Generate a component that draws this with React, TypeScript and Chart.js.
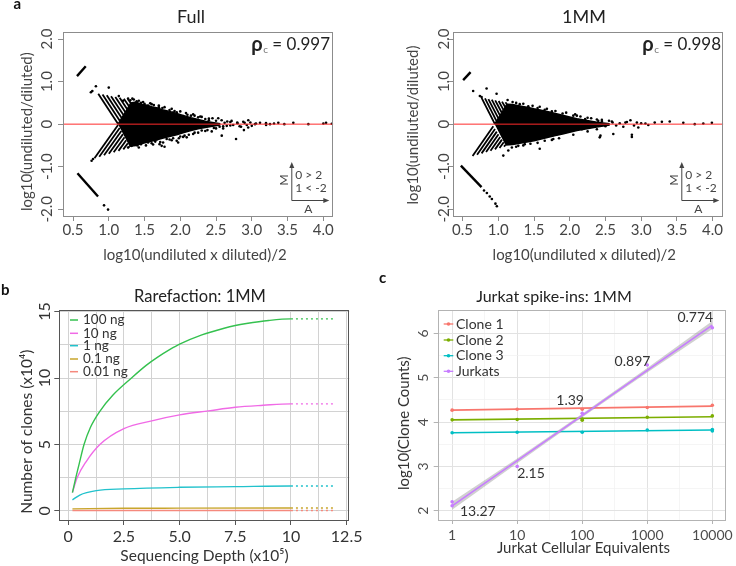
import React, { useEffect, useRef } from 'react';
import { Chart, registerables } from 'chart.js';

Chart.register(...registerables);

const FONT = "Lato, 'Open Sans', 'DejaVu Sans', sans-serif";

// ================= Panel a : MA plots =================
const maXTicks = [0.5, 1.0, 1.5, 2.0, 2.5, 3.0, 3.5, 4.0];
const maXTickLabels = ['0.5', '1.0', '1.5', '2.0', '2.5', '3.0', '3.5', '4.0'];
const maYTicks = [-2, -1, 0, 1, 2];
const maYTickLabels = ['-2.0', '-1.0', '0', '1.0', '2.0'];
const maTitles = ['Full', '1MM'];
const maRho = ['0.997', '0.998'];

// --- Full ---
const fullCoreA = [1.13, 1.31, 1.38, 1.45, 1.52, 1.6, 1.68, 1.75, 1.85, 1.95, 2.05, 2.15, 2.25, 2.35, 2.45, 2.55,
  2.55, 2.45, 2.35, 2.25, 2.15, 2.05, 1.95, 1.85, 1.75, 1.65, 1.55, 1.45, 1.38, 1.29];
const fullCoreM = [0.0, 0.5, 0.52, 0.47, 0.45, 0.41, 0.38, 0.34, 0.3, 0.25, 0.2, 0.15, 0.11, 0.07, 0.04, 0.01,
  -0.02, -0.05, -0.08, -0.11, -0.15, -0.2, -0.25, -0.29, -0.33, -0.38, -0.42, -0.46, -0.5, -0.52];
const fullSegA0 = [0.556, 0.562, 0.853, 0.913, 0.972, 1.032, 1.092, 1.152, 1.211, 1.271, 0.80, 0.867, 0.934, 1.001, 1.069, 1.136, 1.203, 1.27];
const fullSegM0 = [1.13, -1.154, 0.715, 0.696, 0.677, 0.658, 0.638, 0.619, 0.600, 0.581, -0.80, -0.766, -0.731, -0.697, -0.663, -0.629, -0.594, -0.56];
const fullSegA1 = [0.678, 0.85, 1.133, 1.158, 1.183, 1.208, 1.233, 1.258, 1.283, 1.308, 1.13, 1.153, 1.176, 1.199, 1.221, 1.244, 1.267, 1.29];
const fullSegM1 = [1.36, -1.70, 0.0, 0.07, 0.14, 0.21, 0.28, 0.35, 0.42, 0.49, -0.02, -0.091, -0.163, -0.234, -0.306, -0.377, -0.449, -0.52];
const fullPtA = [
  0.75, 0.77, 0.82, 1.0, 1.14, 1.27, 1.35, 1.39, 1.5, 1.63, 1.67, 1.75, 1.9, 1.92, 2.04, 2.1, 2.2, 2.3, 2.35, 2.45,
  1.2, 1.3, 1.45, 1.55, 1.6, 1.7, 1.85, 1.95, 2.15, 2.25,
  0.76, 0.78, 1.27, 1.32, 1.5, 1.55, 1.71, 1.74, 1.81, 1.95, 1.97, 2.06, 2.09, 2.44, 2.58, 2.78, 2.89, 2.18, 1.76, 1.78, 2.04, 1.67, 2.3, 2.5,
  1.4, 1.45, 1.6, 1.65, 1.85, 1.9, 2.0, 2.2, 2.35,
  0.934, 0.99,
  2.531, 2.578, 2.657, 2.718, 2.797, 2.881, 2.951, 3.045, 3.059, 3.115, 3.199, 3.255, 3.311, 3.371, 3.455, 3.581, 3.791, 4.001, 4.039, 4.119,
  2.6, 2.7, 2.85, 3.0, 3.2, 2.95,
  2.5, 2.55, 2.62, 2.65, 2.7, 2.74, 2.8, 2.83, 2.9, 2.93, 2.98, 2.4, 2.47, 2.6,
  1.33, 1.42, 1.48, 1.58, 1.7, 1.78, 1.88, 2.0, 2.08, 2.18, 2.28, 2.4,
  1.42, 1.52, 1.62, 1.72, 1.88, 1.98, 2.12, 2.25, 2.38,
];
const fullPtM = [
  0.75, 0.78, 0.89, 0.86, 0.66, 0.6, 0.58, 0.54, 0.48, 0.45, 0.31, 0.38, 0.27, 0.31, 0.19, 0.22, 0.2, 0.17, 0.12, 0.14,
  0.55, 0.56, 0.5, 0.44, 0.47, 0.4, 0.33, 0.28, 0.2, 0.16,
  -0.86, -0.82, -0.55, -0.51, -0.39, -0.43, -0.47, -0.51, -0.35, -0.39, -0.43, -0.27, -0.31, -0.17, -0.27, -0.35, -0.14, -0.23, -0.43, -0.53, -0.3, -0.36, -0.15, -0.1,
  -0.5, -0.47, -0.45, -0.41, -0.36, -0.33, -0.29, -0.2, -0.16,
  -1.91, -2.01,
  0.14, 0.093, 0.061, 0.077, 0.037, 0.054, 0.093, 0.0, 0.016, 0.03, 0.023, 0.0, 0.016, 0.03, 0.0, 0.03, 0.0, 0.016, 0.03, 0.01,
  -0.05, -0.03, -0.06, -0.04, -0.02, -0.08,
  0.08, -0.06, 0.03, -0.04, 0.05, -0.02, 0.02, -0.05, 0.03, -0.02, 0.04, 0.09, -0.09, -0.1,
  0.6, 0.55, 0.52, 0.49, 0.44, 0.4, 0.36, 0.3, 0.26, 0.23, 0.18, 0.13,
  -0.55, -0.5, -0.48, -0.42, -0.38, -0.33, -0.25, -0.2, -0.14,
];

// --- 1MM ---
const mmCoreA = [0.95, 1.12, 1.2, 1.3, 1.4, 1.5, 1.6, 1.7, 1.8, 1.9, 2.0, 2.1, 2.2, 2.3, 2.4, 2.55,
  2.55, 2.4, 2.3, 2.2, 2.1, 2.0, 1.9, 1.8, 1.7, 1.6, 1.5, 1.4, 1.3, 1.2, 1.1];
const mmCoreM = [0.0, 0.47, 0.46, 0.43, 0.40, 0.36, 0.33, 0.29, 0.25, 0.21, 0.17, 0.13, 0.1, 0.07, 0.04, 0.01,
  -0.02, -0.06, -0.09, -0.12, -0.15, -0.19, -0.23, -0.27, -0.31, -0.35, -0.39, -0.42, -0.45, -0.48, -0.49];
const mmSegA0 = [0.508, 0.476, 0.766, 0.814, 0.861, 0.909, 0.957, 1.005, 1.052, 1.10, 0.64, 0.703, 0.766, 0.829, 0.891, 0.954, 1.017, 1.08];
const mmSegM0 = [1.035, -0.974, 0.62, 0.605, 0.59, 0.575, 0.56, 0.545, 0.53, 0.515, -0.75, -0.719, -0.687, -0.656, -0.624, -0.593, -0.561, -0.53];
const mmSegA1 = [0.612, 0.765, 0.953, 0.977, 1.001, 1.025, 1.049, 1.072, 1.096, 1.12, 0.93, 0.954, 0.979, 1.003, 1.027, 1.051, 1.076, 1.10];
const mmSegM1 = [1.222, -1.48, 0.0, 0.067, 0.134, 0.201, 0.269, 0.336, 0.403, 0.47, -0.05, -0.113, -0.176, -0.239, -0.301, -0.364, -0.427, -0.49];
const mmPtA = [
  0.648, 0.836, 0.742, 0.766, 0.976, 1.13, 1.2, 1.3, 1.42, 1.55, 1.65, 1.75, 1.9, 2.05, 2.15, 2.3, 2.45, 2.55,
  2.076, 2.216, 2.4, 2.59, 2.78, 2.85, 2.94, 3.06, 3.19, 3.29, 3.40, 3.59, 3.75, 3.87, 3.99,
  2.43, 2.42, 2.61, 2.87, 2.87, 2.96, 1.58, 1.65, 1.77, 1.89, 1.98, 2.17, 1.37, 1.47, 1.70,
  1.07, 1.19, 1.28, 1.14,
  0.80, 0.84, 0.88, 0.91, 0.96, 0.98,
  2.45, 2.5, 2.6, 2.65, 2.7, 2.75, 2.8, 2.9, 3.0, 3.1,
  1.25, 1.35, 1.48, 1.58, 1.68, 1.8, 1.95, 2.1, 2.25, 2.38,
  1.25, 1.35, 1.45, 1.55, 1.75, 1.85, 2.05, 2.25, 2.38,
];
const mmPtM = [
  0.778, 0.84, 0.661, 0.638, 0.715, 0.568, 0.52, 0.47, 0.42, 0.38, 0.34, 0.3, 0.25, 0.2, 0.18, 0.14, 0.1, 0.08,
  0.23, 0.117, 0.077, 0.061, 0.037, 0.093, 0.037, 0.014, 0.037, 0.054, 0.061, 0.03, 0.0, 0.014, 0.03,
  -0.27, -0.31, -0.23, -0.25, -0.3, -0.08, -0.58, -0.39, -0.35, -0.2, -0.16, -0.12, -0.47, -0.31, -0.23,
  -0.74, -0.55, -0.51, -0.62,
  -1.56, -1.62, -1.70, -1.76, -1.87, -1.93,
  0.06, -0.05, 0.04, -0.03, 0.02, -0.06, 0.05, -0.03, 0.02, -0.02,
  0.5, 0.48, 0.43, 0.41, 0.36, 0.31, 0.27, 0.2, 0.15, 0.11,
  -0.53, -0.5, -0.46, -0.44, -0.37, -0.33, -0.25, -0.17, -0.12,
];

// ================= Panel b : rarefaction =================
const rareXGrid = [0, 1.25, 2.5, 3.75, 5, 6.25, 7.5, 8.75, 10, 11.25, 12.5];
const rareXTickLabels = ['0', '', '2.5', '', '5.0', '', '7.5', '', '10', '', '12.5'];
const rareYGrid = [0, 2.5, 5, 7.5, 10, 12.5, 15];
const rareYTickLabels = ['0', '', '5', '', '10', '', '15'];
const rareNames = ['100 ng', '10 ng', '1 ng', '0.1 ng', '0.01 ng'];
const depth100 = [0.19, 0.34, 0.5, 0.71, 1.0, 1.42, 2.0, 2.84, 3.5, 4.0, 4.57, 5.0, 6.0, 7.0, 7.5, 8.0, 9.0, 10.0, 12.0];
const clones100 = [1.38, 2.5, 3.6, 5.0, 6.3, 7.5, 8.7, 10.0, 10.95, 11.55, 12.15, 12.55, 13.25, 13.75, 13.95, 14.1, 14.33, 14.45, 14.45];
const depth10 = [0.19, 0.4, 0.8, 1.42, 2.5, 3.8, 5.0, 6.3, 7.5, 8.75, 10.0, 12.0];
const clones10 = [1.4, 2.5, 3.7, 5.0, 6.2, 6.8, 7.23, 7.53, 7.8, 7.95, 8.06, 8.06];
const depth1 = [0.19, 0.52, 1.27, 2.5, 5.0, 7.5, 10.0, 12.0];
const clones1 = [0.83, 1.2, 1.53, 1.66, 1.78, 1.83, 1.88, 1.88];
const depth01 = [0.19, 2.5, 5.0, 10.0, 12.0];
const clones01 = [0.16, 0.2, 0.21, 0.22, 0.22];
const depth001 = [0.19, 5.0, 10.0, 12.0];
const clones001 = [0.03, 0.04, 0.04, 0.04];
const rareColors = ['#35c14f', '#f06ae6', '#22c2cc', '#c8a62c', '#f5897d'];

// ================= Panel c : Jurkat spike-ins =================
const equivTicks = [1, 3.1623, 10, 31.623, 100, 316.23, 1000, 3162.3, 10000];
const equivTickLabels = ['1', '', '10', '', '100', '', '1000', '', '10000'];
const countTicks = [2, 2.5, 3, 3.5, 4, 4.5, 5, 5.5, 6];
const countTickLabels = ['2', '', '3', '', '4', '', '5', '', '6'];
const spikeNames = ['Clone 1', 'Clone 2', 'Clone 3', 'Jurkats'];
const spikeColors = ['#f8766d', '#7cae00', '#00bfc4', '#c77cff'];
const clone1X = [1, 10, 100, 1000, 10000];
const clone1Y = [4.27, 4.29, 4.29, 4.33, 4.38];
const clone2X = [1, 10, 100, 100, 1000, 10000];
const clone2Y = [4.05, 4.06, 4.04, 4.07, 4.11, 4.14];
const clone3X = [1, 10, 100, 1000, 10000, 10000];
const clone3Y = [3.76, 3.77, 3.77, 3.82, 3.83, 3.80];
const jurkatX = [1, 1, 10, 100, 1000, 10000];
const jurkatY = [2.20, 2.11, 3.0, 4.20, 5.29, 6.13];
const fitX = [1, 10000];
const clone1Fit = [4.27, 4.36];
const clone2Fit = [4.05, 4.12];
const clone3Fit = [3.76, 3.82];
const jurkatFit = [2.11, 6.19];
const bandX = [1, 10, 100, 1000, 10000];
const bandHi = [2.20, 3.18, 4.19, 5.22, 6.28];
const bandLo = [2.02, 3.07, 4.11, 5.12, 6.10];
const spikeLabelText = ['13.27', '2.15', '1.39', '0.897', '0.774'];
const spikeLabelX = [2.48, 16.3, 65.1, 593, 5470];
const spikeLabelY = [1.99, 2.84, 4.48, 5.375, 6.37];

// ================= helpers =================
const xy = (xs: number[], ys: number[]) => xs.map((x, i) => ({ x, y: ys[i] }));

function txt(ctx: any, s: string, x: number, y: number, font: string, color: string, align = 'center', base = 'middle') {
  ctx.save();
  ctx.font = font;
  ctx.fillStyle = color;
  ctx.textAlign = align;
  ctx.textBaseline = base;
  ctx.fillText(s, x, y);
  ctx.restore();
}
function rtxt(ctx: any, s: string, x: number, y: number, font: string, color: string) {
  ctx.save();
  ctx.translate(x, y);
  ctx.rotate(-Math.PI / 2);
  ctx.font = font;
  ctx.fillStyle = color;
  ctx.textAlign = 'center';
  ctx.textBaseline = 'middle';
  ctx.fillText(s, 0, 0);
  ctx.restore();
}
function box(chart: any, color: string) {
  const { ctx, chartArea: a } = chart;
  ctx.save();
  ctx.strokeStyle = color;
  ctx.lineWidth = 1;
  ctx.strokeRect(Math.round(a.left) + 0.5, Math.round(a.top) + 0.5, Math.round(a.right - a.left) - 1, Math.round(a.bottom - a.top));
  ctx.restore();
}
function yLabels(chart: any, vals: number[], labels: string[], off: number, font: string, color: string) {
  const s = chart.scales.y;
  vals.forEach((v, i) => {
    if (labels[i]) rtxt(chart.ctx, labels[i], chart.chartArea.left - off, s.getPixelForValue(v), font, color);
  });
}
function arrowHead(ctx: any, x: number, y: number, dir: string) {
  ctx.beginPath();
  if (dir === 'up') { ctx.moveTo(x, y - 1); ctx.lineTo(x - 2.5, y + 5); ctx.lineTo(x + 2.5, y + 5); }
  else { ctx.moveTo(x + 1, y); ctx.lineTo(x - 5, y - 2.5); ctx.lineTo(x - 5, y + 2.5); }
  ctx.closePath();
  ctx.fill();
}

const baseOpts = (padding: any) => ({
  responsive: false,
  animation: false,
  events: [],
  devicePixelRatio: 1,
  layout: { padding, autoPadding: false },
  plugins: { legend: { display: false }, tooltip: { enabled: false } },
});

// ================= chart builders =================
function buildMA(canvas: HTMLCanvasElement, k: number) {
  const d = k === 0
    ? { coreA: fullCoreA, coreM: fullCoreM, a0: fullSegA0, m0: fullSegM0, a1: fullSegA1, m1: fullSegM1, pa: fullPtA, pm: fullPtM }
    : { coreA: mmCoreA, coreM: mmCoreM, a0: mmSegA0, m0: mmSegM0, a1: mmSegA1, m1: mmSegM1, pa: mmPtA, pm: mmPtM };
  const g = k === 0
    ? { xmin: 0.36, xmax: 4.14, yw: 63, pr: 34.7, yOff: 16.3, yT: [26.7, 131.7], xT: [195, 255], tT: [191, 17], rhoR: 330 }
    : { xmin: 0.37, xmax: 4.15, yw: 85.3, pr: 12.7, yOff: 9.3, yT: [44.7, 125], xT: [216.3, 255], tT: [216, 17], rhoR: 353 };
  const datasets: any[] = [
    { data: [{ x: g.xmin, y: 0 }, { x: g.xmax, y: 0 }], borderColor: '#ff2a2a', borderWidth: 1, pointRadius: 0 },
    { data: xy(d.pa, d.pm), showLine: false, pointRadius: 1.3, pointBackgroundColor: '#000', pointBorderWidth: 0 },
    { data: xy(d.coreA, d.coreM), borderColor: '#000', backgroundColor: '#000', borderWidth: 1.5, pointRadius: 0, fill: 'shape', tension: 0 },
    ...d.a0.map((a0, i) => ({
      data: [{ x: a0, y: d.m0[i] }, { x: d.a1[i], y: d.m1[i] }],
      borderColor: '#000', borderWidth: i < 2 ? 2.4 : 1.8, pointRadius: 0,
    })),
  ];
  const extras = {
    id: 'maExtras',
    afterDraw(chart: any) {
      const { ctx, chartArea: a } = chart;
      box(chart, '#8c8c8c');
      yLabels(chart, maYTicks, maYTickLabels, g.yOff, `15px ${FONT}`, '#444');
      rtxt(ctx, 'log10(undiluted/diluted)', g.yT[0], g.yT[1], `15px ${FONT}`, '#444');
      txt(ctx, 'log10(undiluted x diluted)/2', g.xT[0], g.xT[1], `15px ${FONT}`, '#444');
      txt(ctx, maTitles[k], g.tT[0], g.tT[1], `18px ${FONT}`, '#222');
      if (k === 0) txt(ctx, 'a', 13.5, 8.5, `bold 15px ${FONT}`, '#111', 'left', 'alphabetic');
      // rho_c
      ctx.save();
      ctx.font = `17px ${FONT}`;
      const rest = ' = ' + maRho[k];
      const w1 = ctx.measureText(rest).width;
      ctx.restore();
      txt(ctx, rest, g.rhoR, 45, `17px ${FONT}`, '#222', 'right');
      ctx.save();
      ctx.font = `10px ${FONT}`;
      const wc = ctx.measureText('c').width;
      ctx.restore();
      txt(ctx, 'c', g.rhoR - w1, 50, `10px ${FONT}`, '#777', 'right');
      txt(ctx, 'ρ', g.rhoR - w1 - wc - 0.5, 45, `bold 20px ${FONT}`, '#222', 'right');
      // M / A key
      const xv = a.right - 42, yb = a.bottom - 16, yt = a.bottom - 53, xr = a.right - 5;
      ctx.save();
      ctx.strokeStyle = '#444';
      ctx.fillStyle = '#444';
      ctx.lineWidth = 1;
      ctx.beginPath();
      ctx.moveTo(xv + 0.5, yb + 0.5); ctx.lineTo(xv + 0.5, yt + 3);
      ctx.moveTo(xv + 0.5, yb + 0.5); ctx.lineTo(xr - 3, yb + 0.5);
      ctx.stroke();
      arrowHead(ctx, xv + 0.5, yt, 'up');
      arrowHead(ctx, xr, yb + 0.5, 'right');
      ctx.restore();
      txt(ctx, '0 > 2', xv + 4, a.bottom - 41, `12px ${FONT}`, '#444', 'left');
      txt(ctx, '1 < -2', xv + 4, a.bottom - 28, `12px ${FONT}`, '#444', 'left');
      txt(ctx, 'A', xv + 17, a.bottom - 7, `12px ${FONT}`, '#444');
      rtxt(ctx, 'M', xv - 7, a.bottom - 36, `12px ${FONT}`, '#444');
    },
  };
  return new Chart(canvas, {
    type: 'line',
    data: { datasets },
    options: {
      ...baseOpts({ left: 0, right: g.pr, top: 32.3, bottom: 0 }),
      scales: {
        x: {
          type: 'linear', min: g.xmin, max: g.xmax,
          afterBuildTicks: (s: any) => { s.ticks = maXTicks.map((v) => ({ value: v })); },
          afterFit: (s: any) => { s.height = 74; },
          ticks: { callback: (_v: any, i: number) => maXTickLabels[i], font: { family: FONT, size: 15 }, color: '#444', padding: 0, maxRotation: 0 },
          grid: { drawOnChartArea: false, drawTicks: true, tickLength: 5, tickColor: '#8c8c8c', color: '#8c8c8c' },
          border: { display: false },
        },
        y: {
          type: 'linear', min: -2.16, max: 2.16,
          afterBuildTicks: (s: any) => { s.ticks = maYTicks.map((v) => ({ value: v })); },
          afterFit: (s: any) => { s.width = g.yw; },
          ticks: { display: false },
          grid: { drawOnChartArea: false, drawTicks: true, tickLength: 5, tickColor: '#8c8c8c', color: '#8c8c8c' },
          border: { display: false },
        },
      },
    } as any,
    plugins: [extras],
  } as any);
}

function buildRare(canvas: HTMLCanvasElement) {
  const series = [
    [depth100, clones100], [depth10, clones10], [depth1, clones1], [depth01, clones01], [depth001, clones001],
  ];
  const datasets = series.map(([xs, ys], i) => ({
    label: rareNames[i],
    data: xy(xs, ys),
    borderColor: rareColors[i],
    borderWidth: 1.4,
    pointRadius: 0,
    cubicInterpolationMode: 'monotone',
    segment: { borderDash: (c: any) => (c.p0.parsed.x >= 9.99 ? [2, 3] : undefined) },
  }));
  const extras = {
    id: 'rareExtras',
    afterDraw(chart: any) {
      const { ctx } = chart;
      box(chart, '#555');
      yLabels(chart, rareYGrid, rareYTickLabels, 14.3, `16px ${FONT}`, '#333');
      rtxt(ctx, 'Number of clones (x10\u2074)', 26.7, 161.7, `15.5px ${FONT}`, '#333');
      txt(ctx, 'Sequencing Depth (x10\u2075)', 204.5, 286, `15.5px ${FONT}`, '#333');
      txt(ctx, 'Rarefaction: 1MM', 200, 27, `16.5px ${FONT}`, '#222');
      txt(ctx, 'b', 1, 25, `bold 15px ${FONT}`, '#111', 'left', 'alphabetic');
      const rows = [50, 63.3, 75.7, 89, 101.7];
      rareNames.forEach((n, i) => {
        ctx.save();
        ctx.strokeStyle = rareColors[i];
        ctx.lineWidth = 1.5;
        ctx.beginPath();
        ctx.moveTo(70, rows[i]); ctx.lineTo(78, rows[i]);
        ctx.stroke();
        ctx.restore();
        txt(ctx, n, 83, rows[i], `13.5px ${FONT}`, '#333', 'left');
      });
    },
  };
  return new Chart(canvas, {
    type: 'line',
    data: { datasets },
    options: {
      ...baseOpts({ left: 0, right: 18.7, top: 40, bottom: 0 }),
      scales: {
        x: {
          type: 'linear', min: -0.4, max: 12.62,
          afterBuildTicks: (s: any) => { s.ticks = rareXGrid.map((v) => ({ value: v })); },
          afterFit: (s: any) => { s.height = 46; },
          ticks: { callback: (_v: any, i: number) => rareXTickLabels[i], font: { family: FONT, size: 16 }, color: '#333', padding: 2, maxRotation: 0, autoSkip: false },
          grid: {
            drawOnChartArea: true, drawTicks: true, tickLength: 5, color: '#d2d2d2', lineWidth: 1,
            tickColor: (c: any) => (rareXTickLabels[c.index] ? '#555' : 'rgba(0,0,0,0)'),
          },
          border: { display: false },
        },
        y: {
          type: 'linear', min: -0.68, max: 15.12,
          afterBuildTicks: (s: any) => { s.ticks = rareYGrid.map((v) => ({ value: v })); },
          afterFit: (s: any) => { s.width = 59.3; },
          ticks: { display: false },
          grid: {
            drawOnChartArea: true, drawTicks: true, tickLength: 5, color: '#d2d2d2', lineWidth: 1,
            tickColor: (c: any) => (rareYTickLabels[c.index] ? '#555' : 'rgba(0,0,0,0)'),
          },
          border: { display: false },
        },
      },
    } as any,
    plugins: [extras],
  } as any);
}

function buildSpike(canvas: HTMLCanvasElement) {
  const pts = [[clone1X, clone1Y], [clone2X, clone2Y], [clone3X, clone3Y], [jurkatX, jurkatY]];
  const fits = [clone1Fit, clone2Fit, clone3Fit, jurkatFit];
  const datasets: any[] = [];
  datasets.push({ data: xy(jurkatX, jurkatY), showLine: false, pointRadius: 1.8, pointBackgroundColor: spikeColors[3], pointBorderWidth: 0 });
  datasets.push({ data: xy(fitX, jurkatFit), borderColor: spikeColors[3], borderWidth: 1.6, pointRadius: 0 });
  datasets.push({ data: xy(bandX, bandHi), borderWidth: 0, borderColor: 'rgba(0,0,0,0)', pointRadius: 0, fill: '+1', backgroundColor: 'rgba(150,150,150,0.45)' });
  datasets.push({ data: xy(bandX, bandLo), borderWidth: 0, borderColor: 'rgba(0,0,0,0)', pointRadius: 0 });
  for (let i = 0; i < 3; i++) {
    datasets.push({ data: xy(pts[i][0], pts[i][1]), showLine: false, pointRadius: 1.8, pointBackgroundColor: spikeColors[i], pointBorderWidth: 0 });
    datasets.push({ data: xy(fitX, fits[i]), borderColor: spikeColors[i], borderWidth: 1.6, pointRadius: 0 });
  }
  const extras = {
    id: 'spikeExtras',
    afterDraw(chart: any) {
      const { ctx } = chart;
      box(chart, '#b3b3b3');
      yLabels(chart, countTicks, countTickLabels, 14, `14px ${FONT}`, '#4d4d4d');
      rtxt(ctx, 'log10(Clone Counts)', 36.3, 153.3, `15px ${FONT}`, '#333');
      txt(ctx, 'Jurkat Cellular Equivalents', 215.5, 278.3, `15px ${FONT}`, '#333');
      txt(ctx, 'Jurkat spike-ins: 1MM', 186, 27, `16px ${FONT}`, '#222');
      txt(ctx, 'c', 11, 13, `bold 15px ${FONT}`, '#111', 'left', 'alphabetic');
      const xs = chart.scales.x, ys = chart.scales.y;
      spikeLabelText.forEach((t, i) => {
        txt(ctx, t, xs.getPixelForValue(spikeLabelX[i]), ys.getPixelForValue(spikeLabelY[i]), `14px ${FONT}`, '#333');
      });
      const rows = [54, 70, 85.7, 101.3];
      spikeNames.forEach((n, i) => {
        ctx.save();
        ctx.strokeStyle = spikeColors[i];
        ctx.fillStyle = spikeColors[i];
        ctx.lineWidth = 1.3;
        ctx.beginPath();
        ctx.moveTo(75.7, rows[i]); ctx.lineTo(85.3, rows[i]);
        ctx.stroke();
        ctx.beginPath();
        ctx.arc(80.5, rows[i], 1.8, 0, Math.PI * 2);
        ctx.fill();
        ctx.restore();
        txt(ctx, n, 88, rows[i], `14px ${FONT}`, '#333', 'left');
      });
    },
  };
  return new Chart(canvas, {
    type: 'line',
    data: { datasets },
    options: {
      ...baseOpts({ left: 0, right: 8.3, top: 40, bottom: 0 }),
      scales: {
        x: {
          type: 'logarithmic', min: Math.pow(10, -0.2), max: Math.pow(10, 4.2),
          afterBuildTicks: (s: any) => { s.ticks = equivTicks.map((v) => ({ value: v })); },
          afterFit: (s: any) => { s.height = 46; },
          ticks: { callback: (_v: any, i: number) => equivTickLabels[i], font: { family: FONT, size: 14 }, color: '#4d4d4d', padding: 3, maxRotation: 0, autoSkip: false },
          grid: {
            drawOnChartArea: true, drawTicks: true, tickLength: 4,
            color: (c: any) => (equivTickLabels[c.index] ? '#e2e2e2' : '#f0f0f0'),
            lineWidth: (c: any) => (equivTickLabels[c.index] ? 1 : 0.7),
            tickColor: (c: any) => (equivTickLabels[c.index] ? '#b3b3b3' : 'rgba(0,0,0,0)'),
          },
          border: { display: false },
        },
        y: {
          type: 'linear', min: 1.79, max: 6.53,
          afterBuildTicks: (s: any) => { s.ticks = countTicks.map((v) => ({ value: v })); },
          afterFit: (s: any) => { s.width = 69.7; },
          ticks: { display: false },
          grid: {
            drawOnChartArea: true, drawTicks: true, tickLength: 4,
            color: (c: any) => (countTickLabels[c.index] ? '#e2e2e2' : '#f0f0f0'),
            lineWidth: (c: any) => (countTickLabels[c.index] ? 1 : 0.7),
            tickColor: (c: any) => (countTickLabels[c.index] ? '#b3b3b3' : 'rgba(0,0,0,0)'),
          },
          border: { display: false },
        },
      },
    } as any,
    plugins: [extras],
  } as any);
}

function ChartCanvas({ build, left, top, width, height }: any) {
  const ref = useRef<HTMLCanvasElement | null>(null);
  useEffect(() => {
    const c = build(ref.current);
    return () => c.destroy();
  }, []);
  return <canvas ref={ref} width={width} height={height} style={{ position: 'absolute', left, top, width, height, display: 'block' }} />;
}

export default function App() {
  return (
    <div style={{ position: 'absolute', left: 0, top: 0, width: 736, height: 566, background: '#fff', overflow: 'hidden' }}>
      <ChartCanvas build={(c: any) => buildMA(c, 0)} left={0} top={0} width={368} height={290} />
      <ChartCanvas build={(c: any) => buildMA(c, 1)} left={368} top={0} width={368} height={290} />
      <ChartCanvas build={(c: any) => buildRare(c)} left={0} top={270} width={368} height={296} />
      <ChartCanvas build={(c: any) => buildSpike(c)} left={368} top={270} width={368} height={296} />
    </div>
  );
}
